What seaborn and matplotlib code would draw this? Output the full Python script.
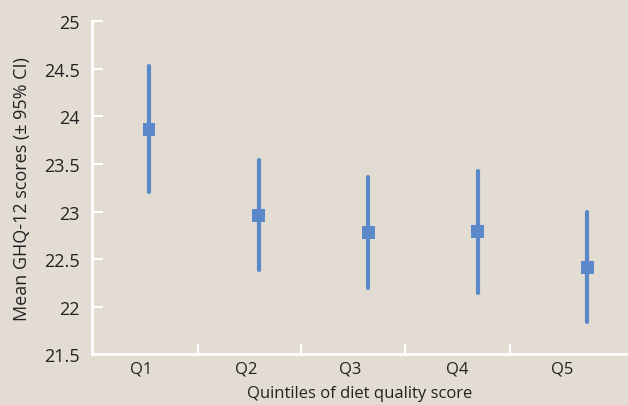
import matplotlib
matplotlib.use("Agg")
import matplotlib.pyplot as plt
import seaborn as sns
import numpy as np
import pandas as pd

# Mean GHQ-12 score with 95% confidence interval per quintile of diet quality
quintiles = ["Q1", "Q2", "Q3", "Q4", "Q5"]
mean_score = [23.86, 22.96, 22.78, 22.79, 22.41]
ci_low = [23.20, 22.38, 22.20, 22.14, 21.84]
ci_high = [24.53, 23.54, 23.36, 23.43, 22.99]
y_ticks = [21.5, 22, 22.5, 23, 23.5, 24, 24.5, 25]
y_tick_labels = ["21.5", "22", "22.5", "23", "23.5", "24", "24.5", "25"]

bg = "#E2DCD3"
blue = "#5B88C8"
text_col = "#222222"

sns.set_theme(style="white")
plt.rcParams["font.family"] = ["Open Sans", "DejaVu Sans"]

df = pd.DataFrame({"quintile": quintiles, "mean": mean_score,
                   "low": ci_low, "high": ci_high})
df["pos"] = np.arange(len(df))

fig = plt.figure(figsize=(6.28, 4.06), dpi=100, facecolor=bg)
ax = fig.add_axes([0.1465, 0.1256, 0.8535, 0.819])
ax.set_facecolor(bg)

# confidence interval bars
ax.vlines(df["pos"], df["low"], df["high"], color=blue, linewidth=3.0,
          capstyle="round", zorder=2)
# mean markers
sns.scatterplot(data=df, x="pos", y="mean", marker="s", s=85, color=blue,
                edgecolor="none", linewidth=0, ax=ax, zorder=3, legend=False)

ax.set_xlim(-0.52, 4.37)
ax.set_ylim(21.5, 25)

# category labels (no tick marks) and separator ticks between categories
label_pos = [-0.07, 0.89, 1.84, 2.81, 3.77]
sep_pos = [0.445, 1.39, 2.34, 3.29]
ax.set_xticks(label_pos)
ax.set_xticklabels(quintiles, fontsize=12, color=text_col)
ax.tick_params(axis="x", which="major", length=0, pad=5)
ax.set_xticks(sep_pos, minor=True)
ax.tick_params(axis="x", which="minor", direction="in", length=7, width=1.5,
               color="white", top=False, bottom=True)

ax.set_yticks(y_ticks)
ax.set_yticklabels(y_tick_labels, fontsize=13, color=text_col)
ax.tick_params(axis="y", direction="in", length=8, width=1.5, color="white",
               pad=9, left=True)

for side in ["top", "right"]:
    ax.spines[side].set_visible(False)
for side in ["left", "bottom"]:
    ax.spines[side].set_visible(True)
    ax.spines[side].set_color("white")
    ax.spines[side].set_linewidth(2)

ax.set_xlabel("Quintiles of diet quality score", fontsize=12, color=text_col,
              labelpad=6)
ax.set_ylabel("Mean GHQ-12 scores (\u00b1 95% CI)", fontsize=13, color=text_col,
              labelpad=9)
ax.grid(False)

fig.savefig("out.png", dpi=100, facecolor=bg)
